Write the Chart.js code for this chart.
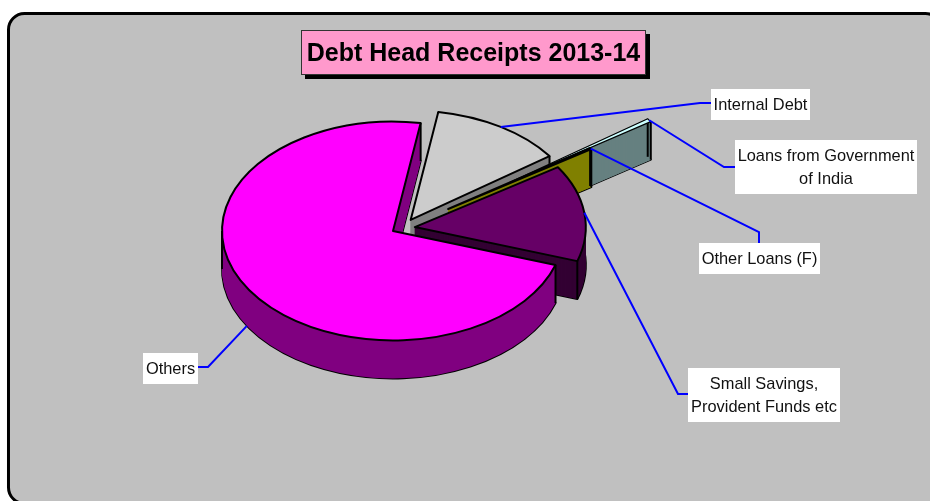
<!DOCTYPE html>
<html><head><meta charset="utf-8">
<style>html,body{margin:0;padding:0;background:#fff}canvas{display:block}</style>
<script src="https://cdn.jsdelivr.net/npm/chart.js@4"></script></head>
<body><div style="width:930px;height:501px"><canvas id="c" width="930" height="501"></canvas></div>
<script>
const categories = ['Internal Debt','Loans from Government of India','Other Loans (F)','Small Savings, Provident Funds etc','Others'];
const receipts = [12.5, 0.5, 0.2, 14.25, 72.55];
const chartTitle = 'Debt Head Receipts 2013-14';

const topColors = ['#CCCCCC','#CCFFFF','#808000','#660066','#FF00FF'];
const wallColors = ['#808080','#668080','#808000','#330033','#800080'];
const explode = [24, 135, 65, 23, 0];
const nudge = [[5,2],[5,1],[1,1],[-1,-2],[0,0]];
const labelLines = [['Internal Debt'],['Loans from Government','of India'],['Other Loans (F)'],['Small Savings,','Provident Funds etc'],['Others']];
const labelBoxes = [[711,89,99,31],[735,140,182,54],[699,243,121,31],[688,368,152,54],[143,353,55,31]];
const leaders = [[[700,103],[711,103]],[[724,167],[735,167]],[[759,232],[759,243]],[[678,394],[688,394]],[[208,367],[198,367]]];
const CX = 393, CY = 231, RX = 171, K = 0.64, DEPTH = 38;
const font = '16.4px "Liberation Sans", Arial, sans-serif';

function project(arc, i, ang, rad, dy){
  const mid = (arc.startAngle + arc.endAngle)/2;
  const ex = explode[i];
  return [CX + nudge[i][0] + Math.cos(mid)*ex + Math.cos(ang)*rad,
          CY + nudge[i][1] + K*(Math.sin(mid)*ex + Math.sin(ang)*rad) + dy];
}
function slicePath(ctx, arc, i, dy){
  const mid = (arc.startAngle + arc.endAngle)/2;
  const a = project(arc,i,mid,0,dy);
  ctx.beginPath();
  ctx.moveTo(a[0],a[1]);
  ctx.ellipse(a[0],a[1],RX,RX*K,0,arc.startAngle,arc.endAngle);
  ctx.closePath();
}
const pie3d = {
  id:'pie3d',
  beforeDraw(chart){
    const ctx = chart.ctx;
    ctx.save();
    ctx.fillStyle = '#fff'; ctx.fillRect(0,0,930,501);
    ctx.beginPath(); ctx.roundRect(8.5,13.5,933,490,16);
    ctx.fillStyle = '#C0C0C0'; ctx.fill();
    ctx.lineWidth = 3; ctx.strokeStyle = '#000'; ctx.stroke();
    ctx.fillStyle = '#000'; ctx.fillRect(305,34,345,45);
    ctx.fillStyle = '#FF99CC'; ctx.fillRect(301.5,30.5,344,44);
    ctx.lineWidth = 1; ctx.strokeStyle = '#333'; ctx.strokeRect(301.5,30.5,344,44);
    ctx.restore();
  },
  beforeDatasetDraw(chart){
    const ctx = chart.ctx, arcs = chart.getDatasetMeta(0).data;
    ctx.save();
    ctx.lineJoin = 'round';
    // side walls, back to front
    arcs.forEach((arc,i)=>{
      const mid = (arc.startAngle + arc.endAngle)/2;
      ctx.lineWidth = 2; ctx.strokeStyle = '#000';
      slicePath(ctx,arc,i,DEPTH); ctx.stroke();
      ctx.fillStyle = wallColors[i];
      const apex = project(arc,i,mid,0,0);
      [arc.startAngle,arc.endAngle].forEach(a=>{
        const t = project(arc,i,a,RX,0);
        ctx.beginPath(); ctx.moveTo(apex[0],apex[1]); ctx.lineTo(t[0],t[1]);
        ctx.lineTo(t[0],t[1]+DEPTH); ctx.lineTo(apex[0],apex[1]+DEPTH); ctx.closePath(); ctx.fill();
      });
      for(let d=DEPTH;d>=0;d--){ slicePath(ctx,arc,i,d); ctx.fill(); }
      [arc.startAngle,arc.endAngle,Math.PI].forEach(a=>{
        const t = ((a-arc.startAngle)%(2*Math.PI)+2*Math.PI)%(2*Math.PI);
        if(t>arc.endAngle-arc.startAngle+1e-6) return;
        const p = project(arc,i,a,RX,0);
        ctx.beginPath(); ctx.moveTo(p[0],p[1]); ctx.lineTo(p[0],p[1]+DEPTH); ctx.stroke();
      });
    });
    // top faces, drawn by the chart's own arc elements
    arcs.forEach((arc,i)=>{
      const mid = (arc.startAngle + arc.endAngle)/2;
      const a = project(arc,i,mid,0,0);
      ctx.save();
      ctx.translate(a[0],a[1]);
      ctx.scale(1,K);
      ctx.translate(-arc.x,-arc.y);
      arc.draw(ctx);
      ctx.restore();
    });
    // black outlines of tops at even width
    ctx.lineWidth = 2; ctx.strokeStyle = '#000';
    arcs.forEach((arc,i)=>{ ctx.lineWidth = i===1 ? 1.2 : 2; slicePath(ctx,arc,i,0); ctx.stroke(); });
    // leader lines and label boxes
    ctx.strokeStyle = '#0000FF'; ctx.lineWidth = 2; ctx.lineJoin='miter';
    arcs.forEach((arc,i)=>{
      const mid = (arc.startAngle + arc.endAngle)/2;
      const p = project(arc,i,mid,RX,i===4?DEPTH:0);
      ctx.beginPath(); ctx.moveTo(p[0],p[1]);
      leaders[i].forEach(q=>ctx.lineTo(q[0],q[1])); ctx.stroke();
    });
    ctx.font = font; ctx.textAlign='center'; ctx.textBaseline='middle';
    labelBoxes.forEach((b,i)=>{
      ctx.fillStyle='#fff'; ctx.fillRect(b[0],b[1],b[2],b[3]);
      ctx.fillStyle='#111';
      const n = labelLines[i].length;
      labelLines[i].forEach((t,j)=>ctx.fillText(t,b[0]+b[2]/2,b[1]+b[3]/2+(j-(n-1)/2)*23+0.5));
    });
    ctx.restore();
    return false;
  }
};
new Chart(document.getElementById('c'),{
  type:'pie',
  data:{labels:categories,datasets:[{data:receipts,backgroundColor:topColors,borderColor:'#000',borderWidth:0}]},
  options:{
    responsive:false,animation:false,
    rotation:9.3,radius:RX,
    layout:{padding:{left:17,right:0,top:0,bottom:0}},
    plugins:{
      legend:{display:false},tooltip:{enabled:false},
      title:{display:true,text:chartTitle,color:'#000',font:{family:'"Liberation Sans", Arial, sans-serif',size:25,weight:'bold'},padding:{top:39.5,bottom:0}}
    }
  },
  plugins:[pie3d]
});
</script></body></html>
